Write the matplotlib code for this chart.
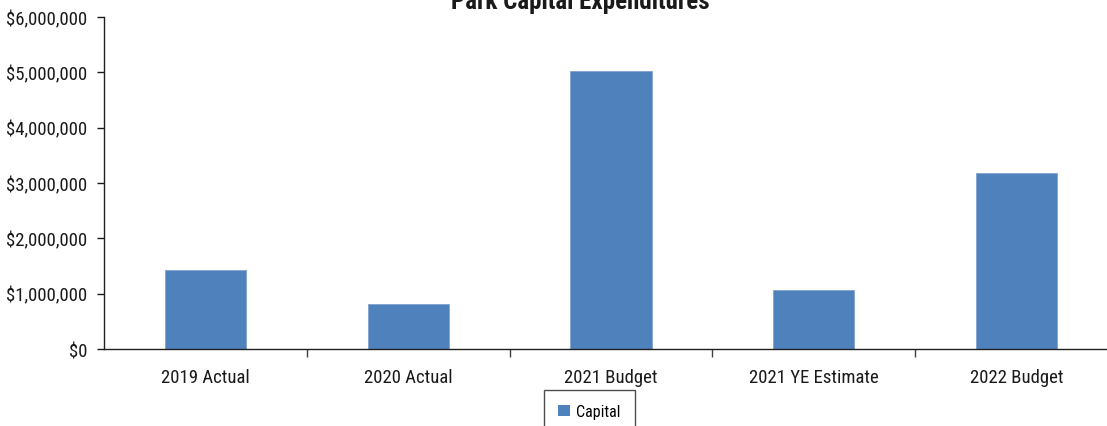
import matplotlib
matplotlib.use("Agg")
import matplotlib.pyplot as plt
from matplotlib import font_manager
from matplotlib.ticker import FuncFormatter
from matplotlib.patches import Patch

categories = ["2019 Actual", "2020 Actual", "2021 Budget", "2021 YE Estimate", "2022 Budget"]
capital = [1420000, 810000, 5030000, 1060000, 3190000]
series_name = "Capital"

BAR_COLOR = "#4F81BD"

# narrow font if there is one, else Arial-metric Liberation Sans
installed = {f.name for f in font_manager.fontManager.ttflist}
narrow = None
for name in ("Liberation Sans Narrow", "Roboto Condensed", "Open Sans Condensed", "Arial Narrow"):
    if name in installed:
        narrow = name
        break
if narrow:
    plt.rcParams["font.family"] = [narrow, "DejaVu Sans"]
    tick_size, legend_size, title_size = 13.5, 11.5, 18
else:
    plt.rcParams["font.family"] = ["Liberation Sans", "DejaVu Sans"]
    tick_size, legend_size, title_size = 11, 9, 15

fig = plt.figure(figsize=(11.07, 4.27), dpi=100, facecolor="white")
# plot area runs past the right edge, as in the reference
ax = fig.add_axes([0.0939, 0.1803, 0.916, 0.7775])

x = list(range(len(categories)))
ax.bar(x, capital, width=0.40, color=BAR_COLOR, edgecolor="#7FA3D1", linewidth=0.6,
       label=series_name, zorder=2)

ax.set_xlim(-0.5, len(categories) - 0.5)
ax.set_ylim(0, 6000000)
ax.set_yticks(range(0, 6000001, 1000000))
ax.yaxis.set_major_formatter(FuncFormatter(lambda v, _: f"${v:,.0f}"))

ax.set_xticks(x)
ax.set_xticklabels(categories)
ax.set_xticks([i + 0.5 for i in x[:-1]], minor=True)
ax.tick_params(axis="x", which="major", length=0, pad=14, labelsize=tick_size, colors="#1a1a1a")
ax.tick_params(axis="x", which="minor", length=6, width=1, color="#404040")
ax.tick_params(axis="y", length=5, width=1, pad=7, labelsize=tick_size, colors="#1a1a1a")

for side in ("top", "right"):
    ax.spines[side].set_visible(False)
for side in ("left", "bottom"):
    ax.spines[side].set_color("#202020")
    ax.spines[side].set_linewidth(1.0)

fig.text(0.524, 0.979, "Park Capital Expenditures", ha="center", va="baseline",
         fontsize=title_size, fontweight="bold", color="#1a1a1a")

handles = [Patch(facecolor=BAR_COLOR, edgecolor="none", label=series_name)]
leg = fig.legend(handles=handles, loc="upper left", bbox_to_anchor=(544 / 1107, 1 - 391 / 427),
                 frameon=True, fancybox=False, fontsize=legend_size, handlelength=0.7,
                 handleheight=0.7, handletextpad=0.4, borderpad=0.9, borderaxespad=0)
leg.get_frame().set_edgecolor("#202020")
leg.get_frame().set_linewidth(1.0)

fig.savefig("out.png", dpi=100)
